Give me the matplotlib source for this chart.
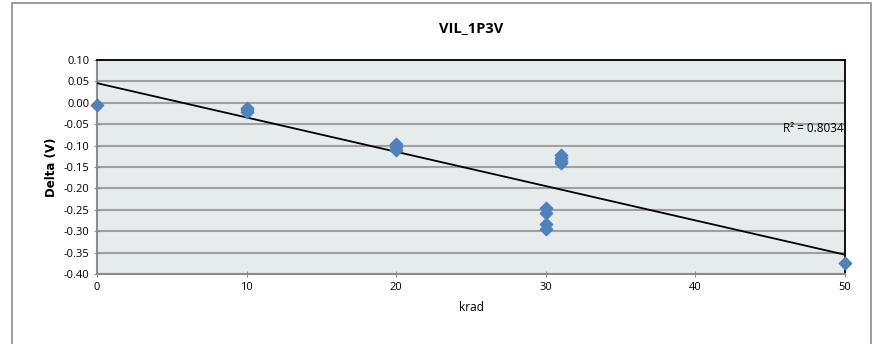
import numpy as np
import matplotlib
matplotlib.use("Agg")
import matplotlib.pyplot as plt
from matplotlib.patches import Rectangle

# dose (krad) and measured VIL shift (V)
krad = [0, 10, 10, 10, 20, 20, 20,
        30, 30, 30, 30, 31, 31, 31, 31, 50]
delta = [-0.004, -0.012, -0.017, -0.021, -0.096, -0.103, -0.110,
         -0.245, -0.257, -0.284, -0.295, -0.122, -0.128, -0.135, -0.141, -0.374]
r2_label = "R\u00b2 = 0.8034"
yticks = np.round(np.arange(-0.40, 0.101, 0.05), 2)
xticks = [0, 10, 20, 30, 40, 50]

plt.rcParams['font.family'] = ['Open Sans', 'DejaVu Sans']

fig = plt.figure(figsize=(8.77, 3.44), dpi=100)
fig.patches.append(Rectangle((12/877, -0.01), 859/877, 1.0, transform=fig.transFigure,
                             fill=False, edgecolor='#8c8c8c', linewidth=1.2))
ax = fig.add_axes([97/877, 1-274/344, 748/877, 214/344])
ax.set_facecolor('#e6ecec')

# linear trendline through the data
k, b = np.polyfit(krad, delta, 1)
xs = np.array([0, 50])
ax.plot(xs, k*xs + b, color='black', lw=1.3, zorder=3)

ax.scatter(krad, delta, marker='D', s=40, color='#4f81bd', zorder=4, clip_on=False)

ax.set_xlim(0, 50)
ax.set_ylim(-0.40, 0.10)
ax.set_yticks(yticks)
ax.set_yticklabels([f"{v:.2f}" if abs(v) > 1e-9 else "0.00" for v in yticks])
ax.set_xticks(xticks)
ax.grid(axis='y', color='#a0a0a0', lw=1.5)
ax.set_axisbelow(True)
for s in ['left', 'bottom']:
    ax.spines[s].set_color('#8c8c8c')
    ax.spines[s].set_linewidth(1.5)
for s in ['top', 'right']:
    ax.spines[s].set_color('black')
    ax.spines[s].set_linewidth(1.3)
ax.tick_params(axis='both', labelsize=8, color='#8c8c8c', length=4, direction='inout')

ax.text(45.85, -0.060, r2_label, fontsize=8.5, va='center', ha='left', zorder=5)

ax.set_title("VIL_1P3V", fontsize=10.5, fontweight='bold', pad=20)
ax.set_xlabel("krad", fontsize=8.5, labelpad=6)
ax.set_ylabel("Delta (V)", fontsize=8.5, fontweight='bold', family=['DejaVu Sans'], labelpad=4)

fig.savefig("out.png", dpi=100)
